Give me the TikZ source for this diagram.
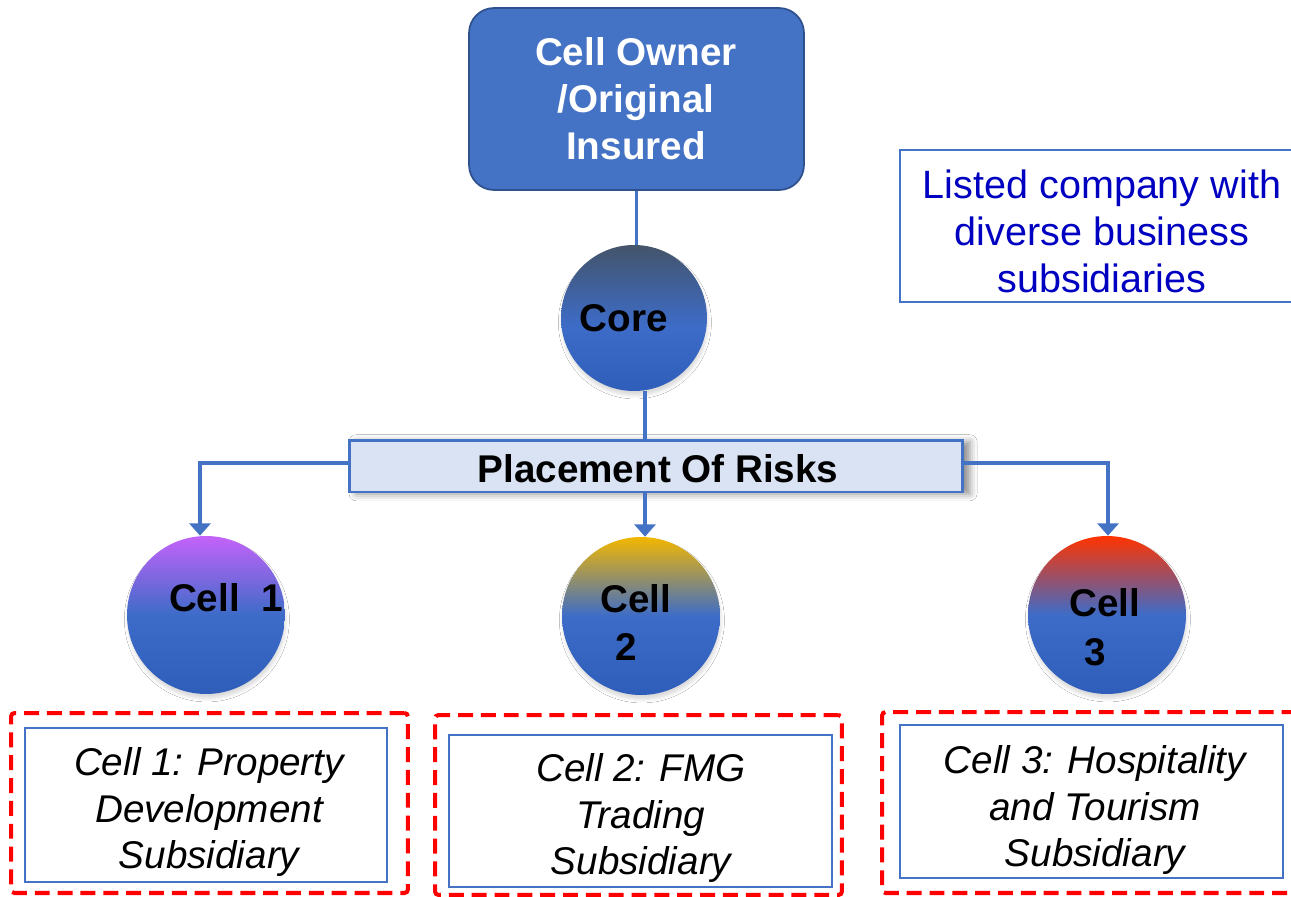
\documentclass[tikz,border=0pt]{standalone}
\usepackage{fontspec}
\setmainfont{Liberation Sans}
\usetikzlibrary{arrows.meta,shadows.blur,calc}
\definecolor{cblue}{HTML}{4472C4}
\definecolor{cdark}{HTML}{2F528F}
\definecolor{cdeep}{HTML}{2F5DBA}
\definecolor{cmid}{HTML}{3D6CC8}
\definecolor{cslate}{HTML}{44546A}
\definecolor{cpale}{HTML}{DAE3F3}
\definecolor{cpurple}{HTML}{C462FA}
\definecolor{cgold}{HTML}{F2B700}
\definecolor{cred}{HTML}{FF3300}
\definecolor{ctext}{HTML}{0000C0}
\definecolor{cdash}{HTML}{FF0000}
\pgfdeclareverticalshading{coreshade}{100bp}{color(0bp)=(cdeep); color(25bp)=(cdeep); color(47bp)=(cmid); color(75bp)=(cslate); color(100bp)=(cslate)}
\pgfdeclareverticalshading{oneshade}{100bp}{color(0bp)=(cdeep); color(25bp)=(cdeep); color(50bp)=(cmid); color(75bp)=(cpurple); color(100bp)=(cpurple)}
\pgfdeclareverticalshading{twoshade}{100bp}{color(0bp)=(cdeep); color(25bp)=(cdeep); color(50bp)=(cmid); color(75bp)=(cgold); color(100bp)=(cgold)}
\pgfdeclareverticalshading{threeshade}{100bp}{color(0bp)=(cdeep); color(25bp)=(cdeep); color(50bp)=(cmid); color(75bp)=(cred); color(100bp)=(cred)}
\tikzset{
  big/.style={font=\fontsize{22}{26.7}\selectfont, align=center, inner sep=0pt},
  bigbold/.style={big, font=\fontsize{22}{26.7}\selectfont\bfseries},
  bigit/.style={big, font=\fontsize{22}{26.7}\selectfont\itshape},
  ball/.style={circle, inner sep=0pt, minimum size=#1, draw=none,
    blur shadow={shadow xshift=0.5pt, shadow yshift=-2.5pt, shadow blur radius=2pt, shadow opacity=15}},
  conn/.style={draw=cblue, line width=2pt},
  arr/.style={conn, -{Triangle[width=12pt,length=7pt]}},
  redbox/.style={draw=cdash, line width=2.3pt, dash pattern=on 8.5pt off 4.5pt, rounded corners=2pt, inner sep=0pt},
  bluebox/.style={draw=cblue, line width=1.6pt, fill=white, inner sep=0pt},
}
\begin{document}
\begin{tikzpicture}[x=0.02cm, y=-0.02cm]
\clip (0,0) rectangle (1291,896);
\fill[white] (0,0) rectangle (1291,896);

% top box
\node[draw=cdark, line width=1pt, fill=cblue, rounded corners=0.5cm, minimum width=6.7cm, minimum height=3.64cm] (owner) at (636.5,99) {};
\node[bigbold, text=white] (ownert) at (636,99) {Cell Owner\\/Original\\Insured};

% core
\node[ball=2.92cm, shading=coreshade] (core) at (634,318) {};
\node[bigbold] (coret) at (624,318) {Core};

% listed company box
\node[draw=cblue, line width=1.6pt, minimum width=8cm, minimum height=3.04cm, inner sep=0pt] (listed) at (1100,226) {};
\node[big, text=ctext, font=\fontsize{22.5}{26.7}\selectfont] (listedt) at (1102,231) {Listed company with\\diverse business\\subsidiaries};

% placement
\node[draw=cblue, line width=1.7pt, fill=cpale, minimum width=12.28cm, minimum height=1.04cm, inner sep=0pt,
  blur shadow={shadow xshift=4pt, shadow yshift=-1pt, shadow blur radius=4pt, shadow opacity=45}] (place) at (656,466) {};
\node[bigbold] (placet) at (658,469) {Placement Of Risks};

% cells
\node[ball=3.16cm, shading=oneshade] (cell1) at (206,615) {};
\node[ball=3.16cm, shading=twoshade] (cell2) at (641,616) {};
\node[ball=3.16cm, shading=threeshade] (cell3) at (1107,615) {};
\node[bigbold] (c1t) at (226,598) {Cell~~1};
\node[bigbold] (c2t) at (636,599) {Cell};
\node[bigbold] (c2n) at (626,647) {2};
\node[bigbold] (c3t) at (1105,603) {Cell};
\node[bigbold] (c3n) at (1095,652) {3};

% connectors
\coordinate (mx) at (645,0);
\coordinate (lx) at (200,0);
\coordinate (rx) at (1108,0);
\draw[conn] (owner.south) -- (owner.south |- core.north);
\draw[conn] (core.south -| mx) -- (place.north -| mx);
\draw[arr] (place.south -| mx) -- (cell2.north -| mx);
\draw[arr] ($(place.west)+(0,-3)$) -| (cell1.north -| lx);
\draw[arr] ($(place.east)+(0,-3)$) -| (cell3.north -| rx);

% bottom boxes
\node[redbox, minimum width=7.94cm, minimum height=3.6cm] (r1) at (209.5,803) {};
\node[bluebox, minimum width=7.24cm, minimum height=3.08cm] (b1) at (206,805) {};
\node[bigit] (b1t) at (209,812) {Cell 1: Property\\Development\\Subsidiary};

\node[redbox, minimum width=8.14cm, minimum height=3.6cm] (r2) at (638.5,805) {};
\node[bluebox, minimum width=7.66cm, minimum height=3.04cm] (b2) at (640.5,811) {};
\node[bigit] (b2t) at (641,818) {Cell 2: FMG\\Trading\\Subsidiary};

\node[redbox, minimum width=8.36cm, minimum height=3.62cm] (r3) at (1091,802.5) {};
\node[bluebox, minimum width=7.66cm, minimum height=3.06cm] (b3) at (1091.5,801.5) {};
\node[bigit] (b3t) at (1095,810) {Cell 3: Hospitality\\and Tourism\\Subsidiary};
\end{tikzpicture}
\end{document}
